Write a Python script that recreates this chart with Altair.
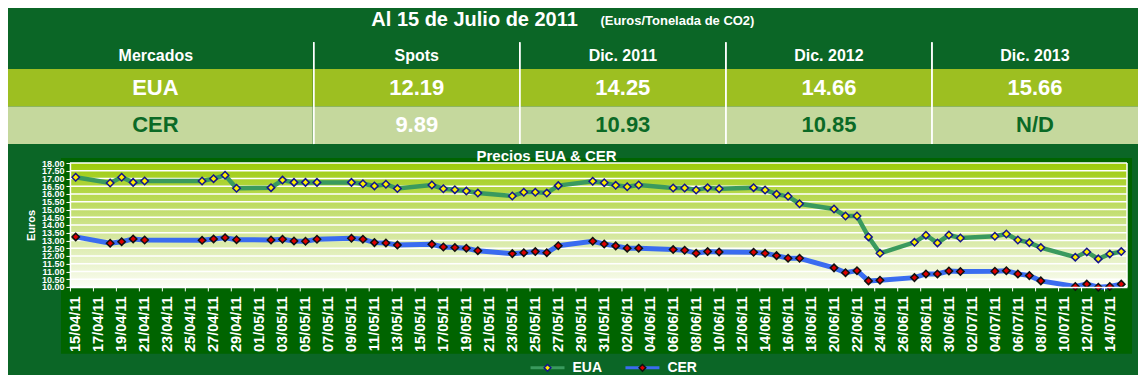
import altair as alt
import pandas as pd

# ---------------- data ----------------
TITLE = "Al 15 de Julio de 2011"
SUBTITLE = "(Euros/Tonelada de CO2)"
MARKETS = ["EUA", "CER"]
CONTRACTS = ["Spots", "Dic. 2011", "Dic. 2012", "Dic. 2013"]
EUA_PRICES = ["12.19", "14.25", "14.66", "15.66"]
CER_PRICES = ["9.89", "10.93", "10.85", "N/D"]

CHART_TITLE = "Precios EUA & CER"
SERIES = ["EUA", "CER"]

DATES = ["15/04", "18/04", "19/04", "20/04", "21/04", "26/04", "27/04", "28/04", "29/04",
         "02/05", "03/05", "04/05", "05/05", "06/05", "09/05", "10/05", "11/05", "12/05", "13/05",
         "16/05", "17/05", "18/05", "19/05", "20/05", "23/05", "24/05", "25/05", "26/05", "27/05",
         "30/05", "31/05", "01/06", "02/06", "03/06", "06/06", "07/06", "08/06", "09/06", "10/06",
         "13/06", "14/06", "15/06", "16/06", "17/06", "20/06", "21/06", "22/06", "23/06", "24/06",
         "27/06", "28/06", "29/06", "30/06", "01/07", "04/07", "05/07", "06/07", "07/07", "08/07",
         "11/07", "12/07", "13/07", "14/07", "15/07"]

EUA = [17.08, 16.71, 17.08, 16.75, 16.84, 16.84, 16.99, 17.21, 16.37,
       16.41, 16.90, 16.75, 16.75, 16.75, 16.75, 16.66, 16.52, 16.63, 16.35,
       16.58, 16.34, 16.28, 16.19, 16.06, 15.87, 16.11, 16.11, 16.06, 16.54,
       16.82, 16.73, 16.56, 16.47, 16.58, 16.39, 16.39, 16.26, 16.41, 16.34,
       16.41, 16.26, 15.99, 15.85, 15.37, 15.03, 14.58, 14.58, 13.23, 12.17,
       12.88, 13.34, 12.84, 13.35, 13.16, 13.27, 13.42, 13.03, 12.86, 12.54,
       11.92, 12.26, 11.81, 12.13, 12.28]

CER = [13.23, 12.82, 12.92, 13.10, 13.03, 13.01, 13.10, 13.18, 13.05,
       13.03, 13.08, 12.97, 12.95, 13.08, 13.14, 13.08, 12.86, 12.84, 12.70,
       12.75, 12.58, 12.54, 12.50, 12.34, 12.15, 12.21, 12.28, 12.21, 12.66,
       12.95, 12.77, 12.65, 12.50, 12.50, 12.41, 12.37, 12.17, 12.28, 12.26,
       12.24, 12.17, 12.02, 11.85, 11.85, 11.23, 10.92, 11.05, 10.39, 10.43,
       10.60, 10.84, 10.84, 11.03, 10.99, 11.01, 11.05, 10.84, 10.73, 10.39,
       10.03, 10.18, 9.98, 10.03, 10.18]

Y_TICKS = [10.0, 10.5, 11.0, 11.5, 12.0, 12.5, 13.0, 13.5, 14.0, 14.5, 15.0,
           15.5, 16.0, 16.5, 17.0, 17.5, 18.0]
X_START = "2011-04-15"
X_END = "2011-07-16"
X_TICK_FIRST = "2011-04-15"
X_TICK_LAST = "2011-07-14"

# ---------------- styles ----------------
BG = "#0b6626"
PANEL = "#006400"
ROW_EUA = "#9dbf21"
ROW_CER = "#c5d89d"
DARK_TXT = "#0b6a26"
EUA_LINE = "#3a9a5e"
CER_LINE = "#3a6cf0"
EUA_FILL = "#ffee00"
EUA_EDGE = "#14148c"
CER_FILL = "#dd0000"
CER_EDGE = "#111111"
FONT = "Liberation Sans"

PLOT_W = 1058
PLOT_H = 124
LEFT_W = 243
RIGHT_W = 825
ROWS_H = 75

one = pd.DataFrame({"k": [0]})

# ---------------- title row ----------------
title_chart = alt.layer(
    alt.Chart(one).mark_text(text=TITLE, font=FONT, fontSize=20, fontWeight="bold",
                             color="white", baseline="middle", align="center"
                             ).encode(x=alt.value(405), y=alt.value(12)),
    alt.Chart(one).mark_text(text=SUBTITLE, font=FONT, fontSize=13, fontWeight="bold",
                             color="white", baseline="middle", align="center"
                             ).encode(x=alt.value(608), y=alt.value(13)),
).properties(width=PLOT_W, height=33)

# ---------------- table ----------------
row_scale = alt.Scale(domain=MARKETS, paddingInner=0, paddingOuter=0)
row_fill = alt.condition("datum.row === 'EUA'", alt.value(ROW_EUA), alt.value(ROW_CER))
hdr_axis = dict(orient="top", title=None, ticks=False, tickSize=0, domain=False,
                labelAngle=0, labelColor="white", labelFont=FONT, labelFontSize=16,
                labelFontWeight="bold", labelBaseline="middle", labelPadding=14)

left_df = pd.DataFrame({"row": MARKETS, "col": ["Mercados"] * len(MARKETS)})
left_x = alt.X("col:N", scale=alt.Scale(paddingInner=0, paddingOuter=0),
               axis=alt.Axis(labelOffset=-36, **hdr_axis))
left = alt.layer(
    alt.Chart(left_df).mark_rect().encode(
        x=alt.value(-62), x2=alt.value(LEFT_W),
        y=alt.Y("row:N", scale=row_scale, axis=None), color=row_fill),
    alt.Chart(left_df).mark_text(font=FONT, fontSize=22, fontWeight="bold", dx=-36,
                                 baseline="middle").encode(
        x=left_x, y=alt.Y("row:N", scale=row_scale, axis=None), text="row:N",
        color=alt.condition("datum.row === 'EUA'", alt.value("white"), alt.value(DARK_TXT))),
).properties(width=LEFT_W, height=ROWS_H)

recs = []
for c, a, b in zip(CONTRACTS, EUA_PRICES, CER_PRICES):
    recs.append({"row": "EUA", "col": c, "val": a})
    recs.append({"row": "CER", "col": c, "val": b})
right_df = pd.DataFrame(recs)
col_scale = alt.Scale(domain=CONTRACTS, paddingInner=0, paddingOuter=0)
right = alt.layer(
    alt.Chart(right_df).mark_rect().encode(
        x=alt.X("col:N", scale=col_scale, axis=alt.Axis(**hdr_axis)),
        y=alt.Y("row:N", scale=row_scale, axis=None), color=row_fill),
    alt.Chart(right_df).mark_text(font=FONT, fontSize=22, fontWeight="bold",
                                  baseline="middle").encode(
        x=alt.X("col:N", scale=col_scale), y=alt.Y("row:N", scale=row_scale, axis=None),
        text="val:N",
        color=alt.condition("datum.row === 'EUA' || datum.col === 'Spots'",
                            alt.value("white"), alt.value(DARK_TXT))),
    alt.Chart(right_df).mark_rule(color="white", strokeWidth=1.5).encode(
        x=alt.X("col:N", scale=col_scale, bandPosition=0),
        y=alt.value(-27), y2=alt.value(ROWS_H)),
).properties(width=RIGHT_W, height=ROWS_H)

table = alt.hconcat(left, right, spacing=0)

# ---------------- line chart ----------------
fechas = pd.to_datetime([d + "/2011" for d in DATES], format="%d/%m/%Y") + pd.Timedelta(hours=12)
df = pd.DataFrame({"fecha": fechas, "EUA": EUA, "CER": CER})
grid_df = pd.DataFrame({"v": Y_TICKS})
tick_days = pd.date_range(X_TICK_FIRST, X_TICK_LAST, freq="2D")
x_vals = [alt.DateTime(year=d.year, month=d.month, date=d.day) for d in tick_days]
s, e = pd.Timestamp(X_START), pd.Timestamp(X_END)
x_scale = alt.Scale(domain=[alt.DateTime(year=s.year, month=s.month, date=s.day),
                            alt.DateTime(year=e.year, month=e.month, date=e.day)])
y_scale = alt.Scale(domain=[10, 18], nice=False, zero=False)

x_axis = alt.Axis(values=x_vals, format="%d/%m/%y", labelAngle=270, title=None,
                  labelColor="white", labelFont=FONT, labelFontSize=14.5, labelFontWeight="bold",
                  labelOffset=6, labelPadding=5, tickColor="white", tickSize=4,
                  domainColor="white", domainWidth=1.5, grid=False, labelOverlap=False,
                  labelFlush=False, zindex=1)
y_axis = alt.Axis(values=Y_TICKS, format=".2f", title="Euros", titleColor="white",
                  titleFont=FONT, titleFontSize=11, titleFontWeight="bold", titlePadding=5,
                  labelColor="white", labelFont=FONT, labelFontSize=9,
                  labelFontWeight="bold", labelOverlap=False, labelFlush=False,
                  labelPadding=2, tickColor="white", tickSize=4, domainColor="white",
                  domainWidth=1.5, grid=False, zindex=1)

gradient = {"gradient": "linear", "x1": 0, "y1": 0, "x2": 0, "y2": 1,
            "stops": [{"offset": 0, "color": "#9ccb08"},
                      {"offset": 0.25, "color": "#b6d84c"},
                      {"offset": 0.5, "color": "#cde38b"},
                      {"offset": 0.75, "color": "#e4f0c0"},
                      {"offset": 1, "color": "#fbfdf4"}]}

layers = [
    # invisible spacer above the plot (gap between table and plot)
    alt.Chart(one).mark_rule(opacity=0).encode(
        x=alt.value(0), y=alt.value(-18), y2=alt.value(0)),
    alt.Chart(one).mark_rect(color=PANEL).encode(
        x=alt.value(-9), x2=alt.value(PLOT_W + 5), y=alt.value(-5), y2=alt.value(PLOT_H + 67)),
    alt.Chart(one).mark_text(text=CHART_TITLE, font=FONT, fontSize=15, fontWeight="bold",
                             color="white", baseline="middle", align="center").encode(
        x=alt.value(PLOT_W / 2 - 52), y=alt.value(-7)),
    alt.Chart(one).mark_rect(color=gradient).encode(
        x=alt.value(0), x2=alt.value(PLOT_W), y=alt.value(0), y2=alt.value(PLOT_H)),
    alt.Chart(grid_df).mark_rule(color="white", strokeWidth=1.5).encode(
        y=alt.Y("v:Q", scale=y_scale, axis=y_axis), x=alt.value(0), x2=alt.value(PLOT_W)),
    alt.Chart(one).mark_rule(color="white", strokeWidth=1.5).encode(
        x=alt.value(PLOT_W), y=alt.value(0), y2=alt.value(PLOT_H)),
]
for name, lc, fc, ec, lw in [("EUA", EUA_LINE, EUA_FILL, EUA_EDGE, 4.5),
                             ("CER", CER_LINE, CER_FILL, CER_EDGE, 5)]:
    enc = dict(x=alt.X("fecha:T", scale=x_scale, axis=x_axis),
               y=alt.Y(f"{name}:Q", scale=y_scale, axis=y_axis))
    layers.append(alt.Chart(df).mark_line(color=lc, strokeWidth=lw).encode(**enc))
    layers.append(alt.Chart(df).mark_point(shape="diamond", filled=True, size=55, fill=fc,
                                           stroke=ec, strokeWidth=1.5, opacity=1).encode(**enc))

line_chart = alt.layer(*layers).properties(width=PLOT_W, height=PLOT_H)

# ---------------- legend ----------------
leg_df = pd.DataFrame({"s": SERIES})
lx = alt.X("s:N", scale=alt.Scale(type="point", padding=0, domain=SERIES, range=[478, 573]),
           axis=None)
lx2 = alt.X2("s:N")
LEG_Y = 14
legend_chart = alt.layer(
    alt.Chart(leg_df).mark_rule(strokeWidth=3, xOffset=-17, x2Offset=17).encode(
        x=lx, x2=lx2, y=alt.value(LEG_Y),
        color=alt.Color("s:N", scale=alt.Scale(domain=SERIES, range=[EUA_LINE, CER_LINE]),
                        legend=None)),
    alt.Chart(leg_df).mark_point(shape="diamond", filled=True, size=45, strokeWidth=1.5,
                                 opacity=1).encode(
        x=lx, y=alt.value(LEG_Y),
        fill=alt.Fill("s:N", scale=alt.Scale(domain=SERIES, range=[EUA_FILL, CER_FILL]),
                      legend=None),
        stroke=alt.Stroke("s:N", scale=alt.Scale(domain=SERIES, range=[EUA_EDGE, CER_EDGE]),
                          legend=None)),
    alt.Chart(leg_df).mark_text(align="left", dx=25, font=FONT, fontSize=14,
                                fontWeight="bold", color="white", baseline="middle").encode(
        x=lx, y=alt.value(LEG_Y), text="s:N"),
).properties(width=PLOT_W, height=20)

chart = alt.vconcat(title_chart, table, line_chart, legend_chart, spacing=0).properties(
    padding=0, background=BG
).configure_view(stroke=None)

chart.save("out.html", embed_options={"renderer": "svg", "actions": False})
